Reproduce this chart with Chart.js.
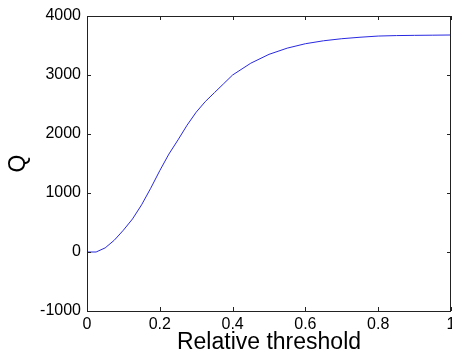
<!DOCTYPE html>
<html>
<head>
<meta charset="utf-8">
<script src="https://cdn.jsdelivr.net/npm/chart.js@4"></script>
<style>
  body { margin: 0; background: #fff; }
  canvas { display: block; }
</style>
</head>
<body>
<canvas id="myChart" width="452" height="358"></canvas>
<script>
// values
const thresholds = [0, 0.025, 0.05, 0.075, 0.1, 0.125, 0.15, 0.175, 0.2, 0.225, 0.25, 0.275, 0.3,
  0.325, 0.35, 0.375, 0.4, 0.45, 0.5, 0.55, 0.6, 0.65, 0.7, 0.75, 0.8, 0.85, 0.9, 0.95, 1.0];
const qValues = [0, 0, 70, 200, 370, 560, 800, 1080, 1380, 1660, 1900, 2150, 2370,
  2550, 2700, 2850, 3000, 3200, 3350, 3455, 3530, 3580, 3615, 3640, 3660, 3668, 3672, 3675, 3678];
const xTicks = [0, 0.2, 0.4, 0.6, 0.8, 1];
const yTicks = [-1000, 0, 1000, 2000, 3000, 4000];

const points = thresholds.map((t, i) => ({ x: t, y: qValues[i] }));

// matlab style box with inward ticks on all four sides
const boxPlugin = {
  id: "box",
  afterDraw(chart) {
    const { ctx, chartArea: a, scales } = chart;
    const len = 4;
    ctx.save();
    ctx.strokeStyle = "#222";
    ctx.lineWidth = 1;
    ctx.beginPath();
    ctx.rect(Math.round(a.left) + 0.5, Math.round(a.top) + 0.5,
      Math.round(a.right - a.left) - 1, Math.round(a.bottom - a.top));
    xTicks.forEach((v) => {
      const px = Math.round(scales.x.getPixelForValue(v)) + 0.5;
      ctx.moveTo(px, a.bottom);
      ctx.lineTo(px, a.bottom - len);
      ctx.moveTo(px, a.top);
      ctx.lineTo(px, a.top + len);
    });
    yTicks.forEach((v) => {
      const py = Math.round(scales.y.getPixelForValue(v)) + 0.5;
      ctx.moveTo(a.left, py);
      ctx.lineTo(a.left + len, py);
      ctx.moveTo(a.right, py);
      ctx.lineTo(a.right - len, py);
    });
    ctx.stroke();
    ctx.restore();
  },
};

const tickFont = { family: "'Liberation Sans', Arial, sans-serif", size: 16 };
const titleFont = { family: "'Liberation Sans', Arial, sans-serif", size: 23 };

new Chart(document.getElementById("myChart").getContext("2d"), {
  type: "line",
  data: {
    datasets: [
      {
        data: points,
        borderColor: "rgb(40, 40, 225)",
        borderWidth: 1,
        pointRadius: 0,
        tension: 0,
        fill: false,
      },
    ],
  },
  options: {
    responsive: false,
    devicePixelRatio: 1,
    animation: false,
    layout: { padding: { top: 16, right: 1, left: 0, bottom: 0 } },
    plugins: { legend: { display: false }, tooltip: { enabled: false } },
    scales: {
      x: {
        type: "linear",
        min: 0,
        max: 1,
        afterBuildTicks: (s) => { s.ticks = xTicks.map((v) => ({ value: v })); },
        ticks: {
          color: "#000",
          font: tickFont,
          padding: 4,
          maxRotation: 0,
          callback: (v) => String(v),
        },
        grid: { display: false, drawTicks: false, tickLength: 0 },
        border: { display: false },
        title: {
          display: true,
          text: "Relative threshold",
          color: "#000",
          font: titleFont,
          padding: { top: 0, bottom: 2 },
        },
        afterFit: (s) => { s.height = 47; s.paddingLeft = 0; s.paddingRight = 0; },
      },
      y: {
        min: -1000,
        max: 4000,
        afterBuildTicks: (s) => { s.ticks = yTicks.map((v) => ({ value: v })); },
        ticks: {
          color: "#000",
          font: tickFont,
          padding: 6,
          callback: (v) => String(v),
        },
        grid: { display: false, drawTicks: false, tickLength: 0 },
        border: { display: false },
        title: {
          display: true,
          text: "Q",
          color: "#000",
          font: titleFont,
          padding: { top: 5, bottom: 0 },
        },
        afterFit: (s) => { s.width = 87; s.paddingTop = 0; s.paddingBottom = 0; },
      },
    },
  },
  plugins: [boxPlugin],
});
</script>
</body>
</html>
